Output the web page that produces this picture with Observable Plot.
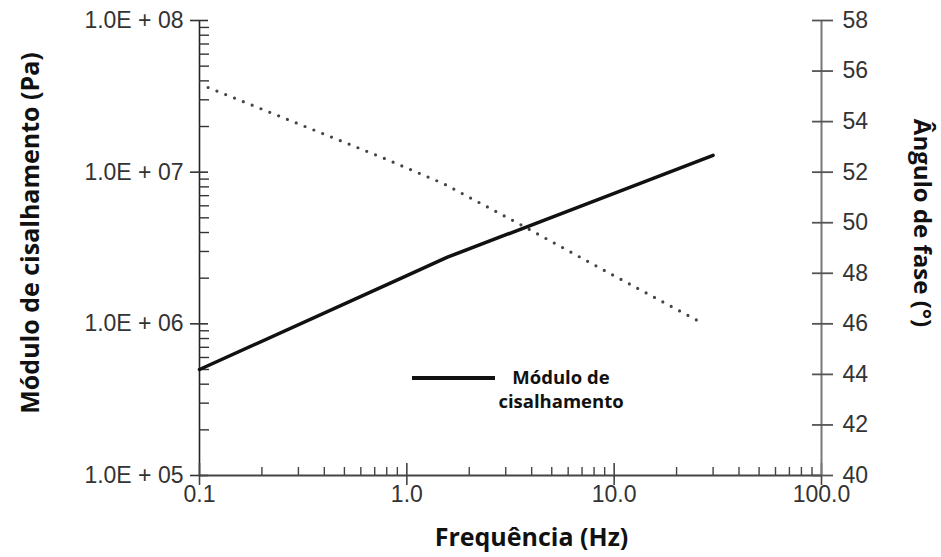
<!DOCTYPE html>
<html>
<head>
<meta charset="utf-8">
<script src="https://cdn.jsdelivr.net/npm/d3@7"></script>
<script src="https://cdn.jsdelivr.net/npm/@observablehq/plot@0.6"></script>
<style>
  html, body { margin: 0; padding: 0; background: white; }
  #chart { position: relative; width: 941px; height: 557px; }
</style>
</head>
<body>
<div id="chart"></div>
<script>
// ---- Data ----
const modFreq = [0.1, 1.0, 1.57, 10, 30];
const modPa = [5.0e5, 2.08e6, 2.75e6, 7.25e6, 1.29e7];

const phaseFreq = [0.11, 0.75, 1.5, 3.4, 10, 27];
const phaseDeg = [55.35, 52.6, 51.55, 50.0, 47.9, 46.0];

const xTicks = [0.1, 1, 10, 100];
const xTickLabels = ["0.1", "1.0", "10.0", "100.0"];
const yTicks = [1e5, 1e6, 1e7, 1e8];
const yTickLabels = ["1.0E + 05", "1.0E + 06", "1.0E + 07", "1.0E + 08"];
const phaseTicks = [40, 42, 44, 46, 48, 50, 52, 54, 56, 58];

const xTitle = "Frequência (Hz)";
const yTitle = "Módulo de cisalhamento (Pa)";
const y2Title = "Ângulo de fase (°)";
const legendLabel = ["Módulo de", "cisalhamento"];

// secondary (right) axis: phase angle 40–58 mapped onto the log y range
const phaseDomain = [40, 58];
const phaseToY = a => 10 ** (5 + (a - phaseDomain[0]) / (phaseDomain[1] - phaseDomain[0]) * 3);

// minor ticks (2..9 per decade)
const minorOf = (lo, hi) => {
  const out = [];
  for (let e = Math.log10(lo); e < Math.log10(hi); e++)
    for (let m = 2; m <= 9; m++) out.push(m * 10 ** e);
  return out;
};
const xMinor = minorOf(0.1, 100);
const yMinor = minorOf(1e5, 1e8);

const W = 941, H = 557;
const mL = 199, mR = 120, mT = 20, mB = 82;
const fw = W - mL - mR, fh = H - mT - mB;

const tickFont = "'Liberation Sans', Arial, sans-serif";
const titleFont = "'Open Sans', 'Noto Sans', sans-serif";

const plot = Plot.plot({
  width: W, height: H,
  marginLeft: mL, marginRight: mR, marginTop: mT, marginBottom: mB,
  x: {type: "log", domain: [0.1, 100], axis: null},
  y: {type: "log", domain: [1e5, 1e8], axis: null},
  style: {fontFamily: tickFont, background: "white", overflow: "visible"},
  marks: [
    // left axis
    Plot.ruleX([0.1], {stroke: "#222", strokeWidth: 1.6}),
    Plot.tickY(yMinor, {y: d => d, insetRight: fw - 10, stroke: "#333", strokeWidth: 1.4}),
    Plot.tickY(yTicks, {y: d => d, insetRight: fw - 18, dx: -9, stroke: "#333", strokeWidth: 1.6}),
    Plot.text(yTickLabels, {y: (d, i) => yTicks[i], frameAnchor: "left", dx: -16, textAnchor: "end",
      fontSize: 23, fill: "#333"}),
    // bottom axis
    Plot.ruleY([1e5], {stroke: "#444", strokeWidth: 1.8}),
    Plot.tickX(xMinor, {x: d => d, insetTop: fh - 8, stroke: "#444", strokeWidth: 1.4}),
    Plot.tickX(xTicks, {x: d => d, insetTop: fh - 22, dy: 10, stroke: "#444", strokeWidth: 1.6}),
    Plot.text(xTickLabels, {x: (d, i) => xTicks[i], frameAnchor: "bottom", dy: 26,
      fontSize: 23, fill: "#333"}),
    // right axis
    Plot.ruleX([100], {stroke: "#777", strokeWidth: 2}),
    Plot.tickY(phaseTicks, {y: d => phaseToY(d), insetLeft: fw - 21, dx: 12, stroke: "#555", strokeWidth: 1.8}),
    Plot.text(phaseTicks, {y: d => phaseToY(d), frameAnchor: "right", dx: 21, textAnchor: "start",
      fontSize: 23, fill: "#333"}),
    // series
    Plot.line(phaseFreq.map((_, i) => i), {x: i => phaseFreq[i], y: i => phaseToY(phaseDeg[i]),
      stroke: "#444", strokeWidth: 3.2, strokeDasharray: "0,9.5", strokeLinecap: "round"}),
    Plot.line(modFreq.map((_, i) => i), {x: i => modFreq[i], y: i => modPa[i],
      stroke: "#111", strokeWidth: 3.5}),
    // axis titles
    Plot.text([yTitle], {frameAnchor: "left", textAnchor: "middle", dx: -169, dy: -15, rotate: -90,
      fontSize: 25, fontWeight: "bold", fontFamily: titleFont, fill: "#111"}),
    Plot.text([y2Title], {frameAnchor: "right", textAnchor: "middle", dx: 100, dy: -25, rotate: 90,
      fontSize: 24, fontWeight: "bold", fontFamily: titleFont, fill: "#111"}),
    Plot.text([xTitle], {frameAnchor: "bottom", dx: 21, dy: 70, fontSize: 25,
      fontWeight: "bold", fontFamily: titleFont, fill: "#111"})
  ]
});

// legend
const svg = d3.select(plot);
const lg = svg.append("g");
lg.append("line").attr("x1", 412).attr("x2", 495).attr("y1", 378).attr("y2", 378)
  .attr("stroke", "#111").attr("stroke-width", 4);
lg.selectAll("text").data(legendLabel).join("text")
  .attr("x", 561).attr("y", (d, i) => 378 + i * 24)
  .attr("dy", "0.35em").attr("text-anchor", "middle")
  .attr("font-family", titleFont).attr("font-weight", "bold").attr("font-size", 18.5)
  .attr("fill", "#111").text(d => d);

document.getElementById("chart").appendChild(plot);
</script>
</body>
</html>
